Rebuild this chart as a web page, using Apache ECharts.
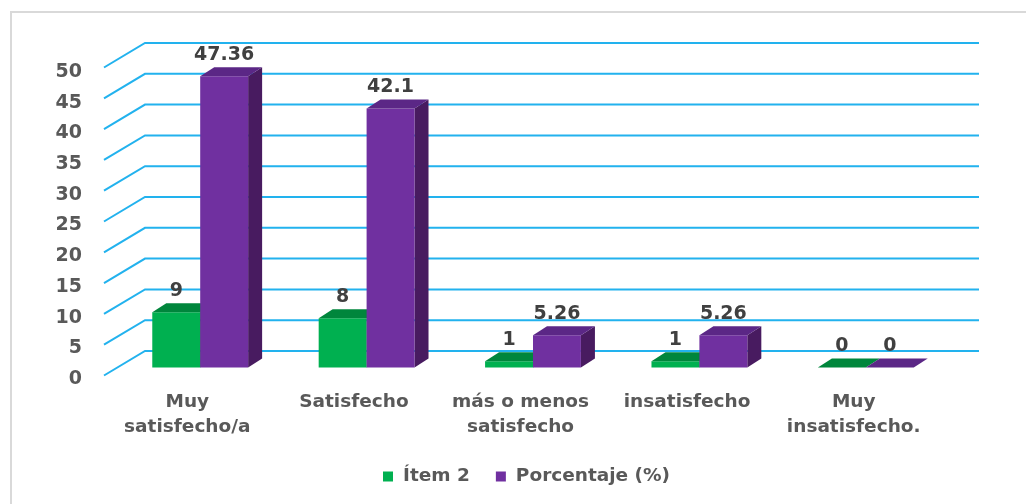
<!DOCTYPE html>
<html>
<head>
<meta charset="utf-8">
<script src="https://cdn.jsdelivr.net/npm/echarts@6/dist/echarts.min.js"></script>
<style>
html,body{margin:0;padding:0;background:#fff;}
#c{width:1026px;height:504px;}
</style>
</head>
<body>
<div id="c"></div>
<script>
// ---- data ----
const categories = ['Muy\nsatisfecho/a', 'Satisfecho', 'más o menos\nsatisfecho', 'insatisfecho', 'Muy\ninsatisfecho.'];
const item2 = [9, 8, 1, 1, 0];
const porcentaje = [47.36, 42.1, 5.26, 5.26, 0];
const yTicks = [0, 5, 10, 15, 20, 25, 30, 35, 40, 45, 50];
const seriesNames = ['Ítem 2', 'Porcentaje (%)'];

// ---- style ----
const FONT = 'DejaVu Sans';
const TXT = '#595959';
const GRID_COLOR = '#22B2EE';
const DX = 14, DY = -9;
const palette = [
  {front: '#00B050', top: '#00863C', side: '#006B30'},
  {front: '#7030A0', top: '#5B2786', side: '#481B60'}
];

const chart = echarts.init(document.getElementById('c'));

function barRenderer(sIdx) {
  return function (params, api) {
    const idx = api.value(0);
    const val = api.value(1);
    const base = api.coord([idx, 0]);
    const topP = api.coord([idx, val]);
    const w = api.size([1, 0])[0] * 0.288;
    const xl = sIdx === 0 ? base[0] - w : base[0];
    const xr = xl + w;
    const y0 = base[1], yt = topP[1];
    const c = palette[sIdx];
    return {
      type: 'group',
      children: [
        {type: 'polygon', shape: {points: [[xr, yt], [xr + DX, yt + DY], [xr + DX, y0 + DY], [xr, y0]]}, style: {fill: c.side}},
        {type: 'rect', shape: {x: xl, y: yt, width: w, height: y0 - yt}, style: {fill: c.front}},
        {type: 'polygon', shape: {points: [[xl, yt], [xr, yt], [xr + DX, yt + DY], [xl + DX, yt + DY]]}, style: {fill: c.top}},
        {type: 'text', x: xl + w / 2, y: yt + DY - 3,
         style: {text: String(val), fill: '#404040', font: 'bold 19px ' + FONT, align: 'center', verticalAlign: 'bottom'}}
      ]
    };
  };
}

function gridRenderer(params, api) {
  const v = api.value(0);
  const back = api.coord([0, v]);
  const right = api.coord([1, v]);
  const front = [back[0] - 41, back[1] + 24.5];
  return {
    type: 'polyline',
    shape: {points: [front, back, [right[0], back[1]]]},
    style: {stroke: GRID_COLOR, lineWidth: 2, fill: null}
  };
}

const option = {
  backgroundColor: '#fff',
  animation: false,
  graphic: [
    {type: 'line', shape: {x1: 10, y1: 12, x2: 1026, y2: 12}, style: {stroke: '#D9D9D9', lineWidth: 2}},
    {type: 'line', shape: {x1: 11, y1: 12, x2: 11, y2: 504}, style: {stroke: '#D9D9D9', lineWidth: 2}}
  ],
  grid: [
    {left: 117, right: 77, top: 60, bottom: 136.5},
    {left: 145, right: 47, top: 43, bottom: 153},
    {left: 104, right: 89, top: 72, bottom: 125}
  ],
  xAxis: [
    {gridIndex: 0, type: 'category', data: categories, show: false},
    {gridIndex: 1, type: 'value', min: 0, max: 1, show: false},
    {gridIndex: 2, type: 'category', data: categories,
     axisLine: {show: false}, axisTick: {show: false},
     axisLabel: {interval: 0, margin: 11, lineHeight: 25, fontSize: 18.5, fontWeight: 'bold', fontFamily: FONT, color: TXT}}
  ],
  yAxis: [
    {gridIndex: 0, type: 'value', min: 0, max: 50, interval: 5, show: false},
    {gridIndex: 1, type: 'value', min: 0, max: 50, interval: 5, show: false},
    {gridIndex: 2, type: 'value', min: 0, max: 50, interval: 5,
     axisLine: {show: false}, axisTick: {show: false}, splitLine: {show: false},
     axisLabel: {margin: 22, fontSize: 19, fontWeight: 'bold', fontFamily: FONT, color: TXT}}
  ],
  legend: {
    left: 383, top: 467, padding: 0,
    itemWidth: 10, itemHeight: 10, itemGap: 26,
    icon: 'rect',
    data: seriesNames,
    textStyle: {fontSize: 18.5, fontWeight: 'bold', fontFamily: FONT, color: TXT, padding: [0, 0, 0, 5]}
  },
  series: [
    {type: 'custom', name: 'gridlines', xAxisIndex: 1, yAxisIndex: 1, z: 1, silent: true,
     data: yTicks.map(v => [v]), encode: {y: 0}, renderItem: gridRenderer},
    {type: 'custom', name: seriesNames[0], xAxisIndex: 0, yAxisIndex: 0, z: 2,
     itemStyle: {color: palette[0].front},
     data: item2.map((v, i) => [i, v]), encode: {x: 0, y: 1}, renderItem: barRenderer(0)},
    {type: 'custom', name: seriesNames[1], xAxisIndex: 0, yAxisIndex: 0, z: 3,
     itemStyle: {color: palette[1].front},
     data: porcentaje.map((v, i) => [i, v]), encode: {x: 0, y: 1}, renderItem: barRenderer(1)}
  ]
};
chart.setOption(option);
</script>
</body>
</html>
